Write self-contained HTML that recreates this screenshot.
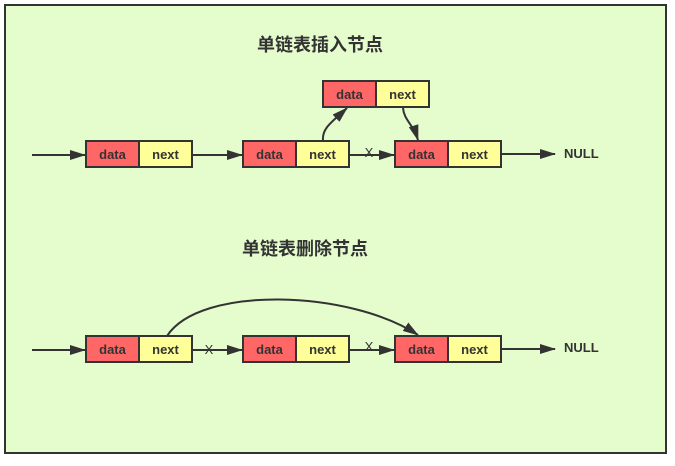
<!DOCTYPE html>
<html><head><meta charset="utf-8"><style>
html,body{margin:0;padding:0;background:#fff;width:675px;height:466px;overflow:hidden}
svg{display:block}
.t{font-family:"Liberation Sans","Noto Sans CJK SC",sans-serif;font-weight:bold;fill:#333}
</style></head><body>
<svg width="675" height="466" viewBox="0 0 675 466" xmlns="http://www.w3.org/2000/svg">
<defs>
<marker id="a" markerWidth="16" markerHeight="10" refX="15" refY="5" orient="auto" markerUnits="userSpaceOnUse">
<path d="M0,0 L16,5 L0,10 Z" fill="#333"/></marker>
<g id="n">
<rect x="0" y="0" width="53" height="26" fill="#ff6666" stroke="#333" stroke-width="2"/>
<rect x="53" y="0" width="53" height="26" fill="#ffff99" stroke="#333" stroke-width="2"/>
<text x="26.5" y="18" text-anchor="middle" font-size="13" class="t">data</text>
<text x="79.5" y="18" text-anchor="middle" font-size="13" class="t">next</text>
</g>
</defs>
<rect x="5" y="5" width="661" height="448" fill="#e5fccc" stroke="#333" stroke-width="2"/>
<text x="320" y="51" text-anchor="middle" font-size="18" class="t">单链表插入节点</text>
<text x="305" y="255" text-anchor="middle" font-size="18" class="t">单链表删除节点</text>
<g stroke="#333" stroke-width="2" fill="none">
<line x1="32" y1="155" x2="85" y2="155" marker-end="url(#a)"/>
<line x1="193" y1="155" x2="242" y2="155" marker-end="url(#a)"/>
<line x1="350" y1="155" x2="394" y2="155" marker-end="url(#a)"/>
<line x1="502" y1="154" x2="555" y2="154" marker-end="url(#a)"/>
<path d="M323,140 C322,128 332,122 347,108" marker-end="url(#a)"/>
<path d="M403,108 C404,120 413,124 418,140" marker-end="url(#a)"/>
<line x1="32" y1="350" x2="85" y2="350" marker-end="url(#a)"/>
<line x1="193" y1="350" x2="242" y2="350" marker-end="url(#a)"/>
<line x1="350" y1="350" x2="394" y2="350" marker-end="url(#a)"/>
<line x1="502" y1="349" x2="555" y2="349" marker-end="url(#a)"/>
<path d="M167,336 C200,285 350,290 418,335" marker-end="url(#a)"/>
</g>
<text x="369" y="157" text-anchor="middle" font-size="13" class="t" style="font-weight:normal">X</text>
<text x="209" y="354" text-anchor="middle" font-size="13" class="t" style="font-weight:normal">X</text>
<text x="369" y="351" text-anchor="middle" font-size="13" class="t" style="font-weight:normal">X</text>
<text x="564" y="158" font-size="13" class="t">NULL</text>
<text x="564" y="352" font-size="13" class="t">NULL</text>
<use href="#n" x="86" y="141"/>
<use href="#n" x="243" y="141"/>
<use href="#n" x="395" y="141"/>
<use href="#n" x="323" y="81"/>
<use href="#n" x="86" y="336"/>
<use href="#n" x="243" y="336"/>
<use href="#n" x="395" y="336"/>
</svg>
</body></html>
